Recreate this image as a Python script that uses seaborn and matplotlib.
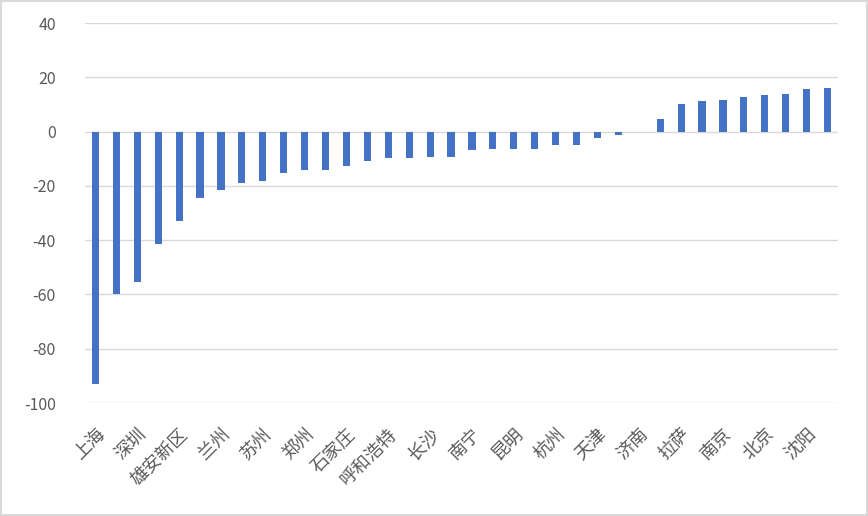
"""Bar chart of city values, sorted from lowest to highest"""
import matplotlib
matplotlib.use("Agg")
import matplotlib.pyplot as plt
from matplotlib.patches import Rectangle
import seaborn as sns
import pandas as pd

cities = ["上海", "广州", "深圳", "成都", "雄安新区", "武汉", "兰州", "重庆", "苏州", "西安",
          "郑州", "厦门", "石家庄", "青岛", "呼和浩特", "宁波", "长沙", "合肥", "南宁", "福州",
          "昆明", "南昌", "杭州", "贵阳", "天津", "太原", "济南", "哈尔滨", "拉萨", "长春",
          "南京", "大连", "北京", "西宁", "沈阳", "银川"]
values = [-93.1, -60.0, -55.6, -41.6, -33.1, -24.5, -21.4, -19.1, -18.3, -15.3,
          -14.0, -14.0, -12.5, -10.7, -9.9, -9.9, -9.5, -9.2, -6.9, -6.3,
          -6.3, -6.3, -5.1, -5.1, -2.2, -1.1, 0.0, 4.8, 10.0, 11.4,
          11.8, 12.9, 13.3, 14.0, 15.5, 16.2]
yticks = [-100, -80, -60, -40, -20, 0, 20, 40]

sns.set_theme(style="white")
plt.rcParams["font.family"] = ["Noto Sans CJK SC", "DejaVu Sans"]
plt.rcParams["axes.unicode_minus"] = False

df = pd.DataFrame({"city": cities, "value": values})

fig = plt.figure(figsize=(8.68, 5.16), dpi=100)
ax = fig.add_axes([85 / 868, 1 - 403 / 516, 753 / 868, 380 / 516])

sns.barplot(data=df, x="city", y="value", color="#4472C4", saturation=1,
            width=0.34, linewidth=0, ax=ax)

ax.set_xlim(-0.5, len(cities) - 0.5)
ax.set_ylim(-100, 40)
ax.set_yticks(yticks)
ax.set_yticklabels([str(v) for v in yticks], fontsize=11.5, color="#595959")
ax.yaxis.grid(True, color="#D9D9D9", linewidth=1)
ax.set_axisbelow(True)

ax.set_xticks(range(0, len(cities), 2))
ax.set_xticklabels(cities[::2], rotation=45, ha="right", rotation_mode="anchor",
                   fontsize=13, color="#595959")
ax.tick_params(axis="x", length=0, pad=16)
ax.tick_params(axis="y", length=0, pad=21)
ax.set_xlabel("")
ax.set_ylabel("")
sns.despine(ax=ax, left=True, bottom=True, top=True, right=True)

fig.patches.append(Rectangle((1 / 868, 1 / 516), 866 / 868, 514 / 516,
                             transform=fig.transFigure, fill=False,
                             edgecolor="#D9D9D9", linewidth=1.5))

fig.savefig("out.png", dpi=100)
